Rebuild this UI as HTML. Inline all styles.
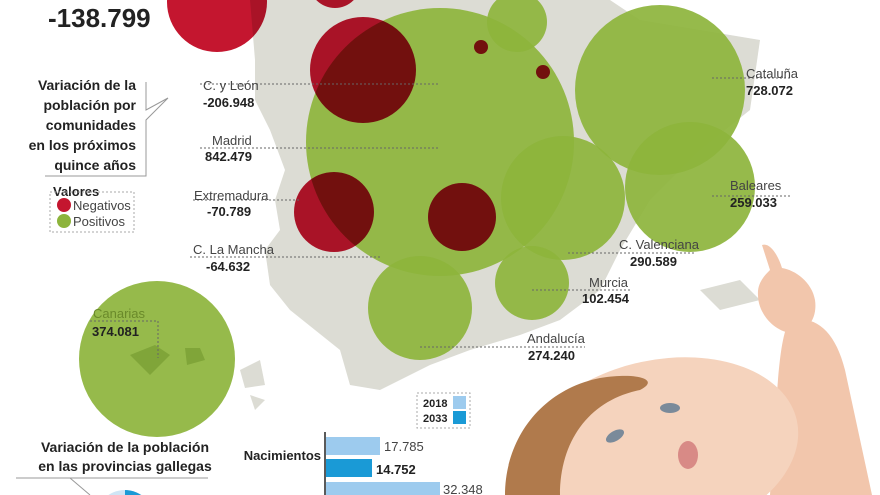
<!DOCTYPE html><html><head><meta charset="utf-8"><style>
html,body{margin:0;background:#fff;width:880px;height:495px;overflow:hidden}
svg{display:block}
text{font-family:"Liberation Sans",sans-serif}
.b{font-weight:bold;fill:#222}
.l{fill:#444}
</style></head><body>
<svg width="880" height="495" viewBox="0 0 880 495">
<rect width="880" height="495" fill="#fff"/>
<path d="M250 0 L610 0 L640 20 L700 30 L760 40 L750 110 L700 150 L650 200 L620 250 L600 290 L560 320 L520 335 L470 350 L430 365 L380 390 L350 385 L340 350 L315 330 L290 310 L270 285 L265 250 L280 230 L275 200 L285 170 L270 130 L255 100 L255 60 Z" fill="#dcdcd4"/>
<path d="M700 290 L740 280 L760 300 L720 310 Z" fill="#dcdcd4"/>
<path d="M240 370 L260 360 L265 385 L245 388 Z M250 395 L265 400 L255 410 Z" fill="#dcdcd4"/>
<g fill="#8db43c" fill-opacity="0.92">
<circle cx="440" cy="142" r="134"/>
<circle cx="517" cy="22" r="30"/>
<circle cx="660" cy="90" r="85"/>
<circle cx="690" cy="187" r="65"/>
<circle cx="563" cy="198" r="62"/>
<circle cx="532" cy="283" r="37"/>
<circle cx="420" cy="308" r="52"/>
<circle cx="157" cy="359" r="78"/>
</g>
<g fill="#7aa035" opacity="0.8"><path d="M130 355 l25 -10 l15 10 l-20 20 z M185 348 l15 0 l5 12 l-18 5 z"/></g>
<g fill="#c4162f" style="mix-blend-mode:multiply">
<circle cx="217" cy="2" r="50"/>
<circle cx="335" cy="-18" r="26"/>
<circle cx="363" cy="70" r="53"/>
<circle cx="334" cy="212" r="40"/>
<circle cx="462" cy="217" r="34"/>
<circle cx="481" cy="47" r="7"/>
<circle cx="543" cy="72" r="7"/>
</g>
<g stroke="#666" stroke-dasharray="2,2" fill="none" stroke-width="1">
<line x1="200" y1="84" x2="440" y2="84"/>
<line x1="200" y1="148" x2="440" y2="148"/>
<line x1="193" y1="200" x2="300" y2="200"/>
<line x1="190" y1="257" x2="380" y2="257"/>
<line x1="712" y1="78" x2="790" y2="78"/>
<line x1="712" y1="196" x2="790" y2="196"/>
<line x1="568" y1="253" x2="695" y2="253"/>
<line x1="532" y1="290" x2="630" y2="290"/>
<line x1="420" y1="347" x2="585" y2="347"/>
<polyline points="90,321 158,321 158,358"/>
</g>
<text x="48" y="27" class="b" font-size="26">-138.799</text>
<g font-size="14" class="b" text-anchor="end">
<text x="136" y="90">Variación de la</text>
<text x="136" y="110">población por</text>
<text x="136" y="130">comunidades</text>
<text x="136" y="150">en los próximos</text>
<text x="136" y="170">quince años</text>
</g>
<polyline points="45,176 146,176 146,120 168,98 146,110 146,82" fill="none" stroke="#999" stroke-width="1"/>
<text x="53" y="196" class="b" font-size="13">Valores</text>
<rect x="50" y="192" width="84" height="40" fill="none" stroke="#aaa" stroke-dasharray="2,2"/>
<circle cx="64" cy="205" r="7" fill="#c4162f"/><circle cx="64" cy="221" r="7" fill="#8db43c"/>
<text x="73" y="210" class="l" font-size="13">Negativos</text>
<text x="73" y="226" class="l" font-size="13">Positivos</text>
<g font-size="13">
<text x="203" y="90" class="l">C. y León</text><text x="203" y="107" class="b">-206.948</text>
<text x="212" y="145" class="l">Madrid</text><text x="205" y="161" class="b">842.479</text>
<text x="194" y="200" class="l">Extremadura</text><text x="207" y="216" class="b">-70.789</text>
<text x="193" y="254" class="l">C. La Mancha</text><text x="206" y="271" class="b">-64.632</text>
<text x="93" y="318" fill="#6a8a2a">Canarias</text><text x="92" y="336" class="b">374.081</text>
<text x="746" y="78" class="l">Cataluña</text><text x="746" y="95" class="b">728.072</text>
<text x="730" y="190" class="l">Baleares</text><text x="730" y="207" class="b">259.033</text>
<text x="619" y="249" class="l">C. Valenciana</text><text x="630" y="266" class="b">290.589</text>
<text x="589" y="287" class="l">Murcia</text><text x="582" y="303" class="b">102.454</text>
<text x="527" y="343" class="l">Andalucía</text><text x="528" y="360" class="b">274.240</text>
</g>
<text x="125" y="452" class="b" font-size="14" text-anchor="middle">Variación de la población</text>
<text x="125" y="471" class="b" font-size="14" text-anchor="middle">en las provincias gallegas</text>
<line x1="16" y1="478" x2="208" y2="478" stroke="#999"/>
<line x1="70" y1="478" x2="90" y2="495" stroke="#999"/>
<circle cx="125" cy="520" r="30" fill="#cfe5f5"/>
<path d="M125 520 L125 490 A30 30 0 0 1 150 504 Z" fill="#1a9ad6"/>
<rect x="417" y="393" width="53" height="35" fill="none" stroke="#aaa" stroke-dasharray="2,2"/>
<text x="423" y="407" class="b" font-size="11">2018</text><text x="423" y="422" class="b" font-size="11">2033</text>
<rect x="453" y="396" width="13" height="13" fill="#9dcbee"/><rect x="453" y="411" width="13" height="13" fill="#1a9ad6"/>
<line x1="325" y1="432" x2="325" y2="495" stroke="#222" stroke-width="1.5"/>
<rect x="326" y="437" width="54" height="18" fill="#9dcbee"/>
<rect x="326" y="459" width="46" height="18" fill="#1a9ad6"/>
<rect x="326" y="482" width="114" height="18" fill="#9dcbee"/>
<text x="321" y="460" class="b" font-size="13" text-anchor="end">Nacimientos</text>
<text x="384" y="451" class="l" font-size="13">17.785</text>
<text x="376" y="474" class="b" font-size="13">14.752</text>
<text x="443" y="494" class="l" font-size="13">32.348</text>
<!-- baby -->
<path d="M790 320 C815 315 835 330 845 370 L872 495 L770 495 L775 420 C778 380 780 335 790 320 Z" fill="#f2c6ac"/>
<path d="M762 245 C770 242 778 255 782 268 C795 270 812 282 815 300 C818 320 805 335 790 333 C772 330 758 312 758 295 C757 283 765 275 770 270 Z" fill="#f2c6ac"/>
<ellipse cx="660" cy="450" rx="140" ry="90" fill="#f5d3bd" transform="rotate(-12 660 450)"/>
<path d="M505 495 C505 440 540 390 600 378 C640 372 660 380 640 390 C590 400 560 440 560 495 Z" fill="#b07a4c"/>
<ellipse cx="615" cy="436" rx="10" ry="5" fill="#7a8a9a" transform="rotate(-30 615 436)"/>
<ellipse cx="670" cy="408" rx="10" ry="5" fill="#7a8a9a"/>
<ellipse cx="688" cy="455" rx="10" ry="14" fill="#d88a86"/>
</svg>
</body></html>
